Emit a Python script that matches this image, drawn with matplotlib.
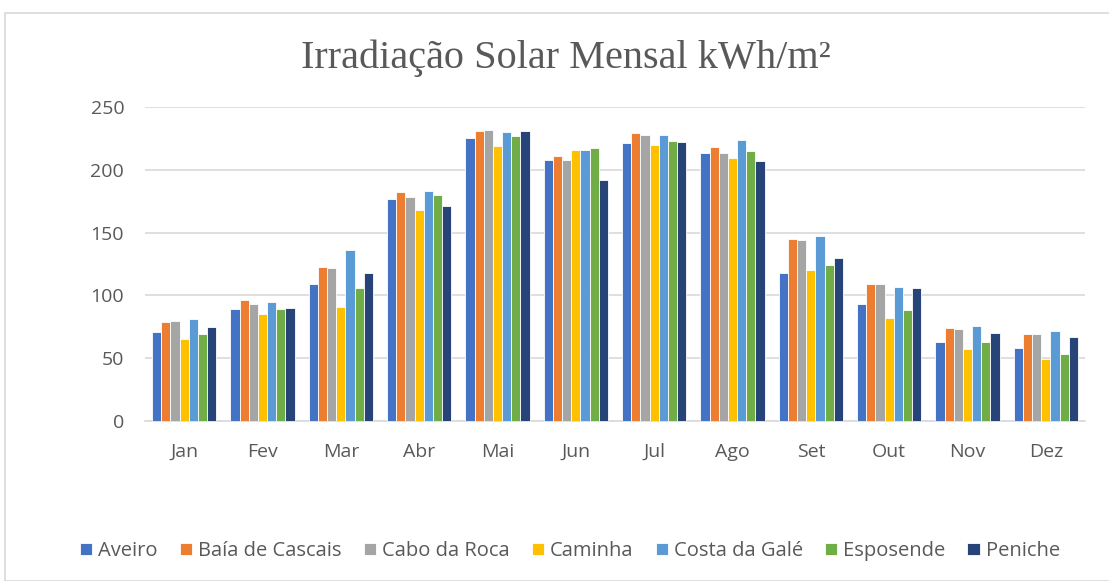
import matplotlib
matplotlib.use('Agg')
import matplotlib.pyplot as plt
from matplotlib.patches import Rectangle
import numpy as np

meses = ['Jan', 'Fev', 'Mar', 'Abr', 'Mai', 'Jun', 'Jul', 'Ago', 'Set', 'Out', 'Nov', 'Dez']
locais = ['Aveiro', 'Baía de Cascais', 'Cabo da Roca', 'Caminha', 'Costa da Galé', 'Esposende', 'Peniche']

aveiro    = [71, 89, 109, 177, 225, 208, 221, 213, 118, 93, 63, 58]
cascais   = [79, 96, 123, 182, 231, 211, 229, 218, 145, 109, 74, 69]
cabo_roca = [80, 93, 122, 178, 232, 208, 228, 213, 144, 109, 73, 69]
caminha   = [65, 85, 91, 168, 219, 216, 220, 209, 120, 82, 57, 49]
costa     = [81, 95, 136, 183, 230, 216, 228, 224, 147, 107, 76, 72]
esposende = [69, 89, 106, 180, 227, 217, 223, 215, 124, 88, 63, 53]
peniche   = [75, 90, 118, 171, 231, 192, 222, 207, 130, 106, 70, 67]

series = [aveiro, cascais, cabo_roca, caminha, costa, esposende, peniche]
cores = ['#4472C4', '#ED7D31', '#A5A5A5', '#FFC000', '#5B9BD5', '#70AD47', '#264478']

fig = plt.figure(figsize=(11.09, 5.81), dpi=100)
fig.patches.append(Rectangle((5/1109, 0), 1.1, 1 - 13/581, transform=fig.transFigure,
                             facecolor='none', edgecolor='#d9d9d9', linewidth=1.2))

ax = fig.add_axes([145/1109, 1 - 421/581, 940/1109, 314/581])

x = np.arange(len(meses))
w = 0.117
for i, (vals, cor, nome) in enumerate(zip(series, cores, locais)):
    ax.bar(x + (i - 3) * w, vals, w, color=cor, edgecolor='white', linewidth=0.6, label=nome, zorder=3)

ax.set_xlim(-0.5, len(meses) - 0.5)
ax.set_ylim(0, 250)
ax.set_yticks(range(0, 251, 50))
ax.set_xticks(x)
ax.set_xticklabels(meses)
ax.yaxis.grid(True, color='#d9d9d9', linewidth=1.2, zorder=0)
for s in ['top', 'right', 'left']:
    ax.spines[s].set_visible(False)
ax.spines['bottom'].set_color('#d9d9d9')
ax.spines['bottom'].set_linewidth(1.2)
ax.tick_params(length=0, labelsize=14, colors='#595959')
ax.tick_params(axis='x', pad=16)
ax.tick_params(axis='y', pad=15)
for t in ax.get_xticklabels() + ax.get_yticklabels():
    t.set_family('Open Sans')

fig.text(566/1109, 1 - 58/581, 'Irradiação Solar Mensal kWh/m²', ha='center', va='center',
         fontsize=29, color='#595959', family='Liberation Serif')

leg = fig.legend(loc='center', bbox_to_anchor=(570/1109, 1 - 551/581), ncol=7, frameon=False,
                 handlelength=0.6, handleheight=0.6, handletextpad=0.3, columnspacing=1.1,
                 prop={'family': 'Open Sans', 'size': 14.5})
for t in leg.get_texts():
    t.set_color('#595959')

fig.savefig('out.png', dpi=100)
